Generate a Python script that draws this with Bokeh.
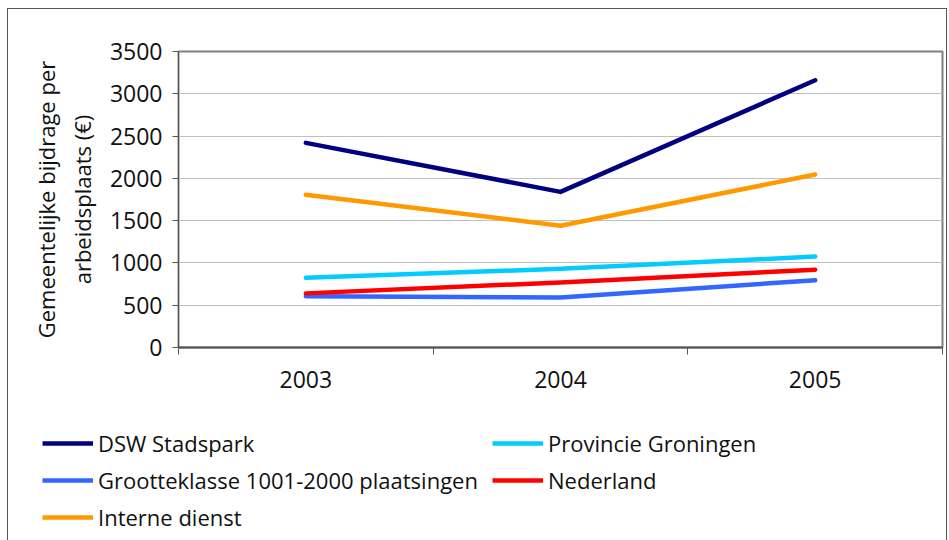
from bokeh.plotting import figure
from bokeh.models import FixedTicker, Legend, LegendItem, Range1d
from bokeh.layouts import column
from bokeh.embed import file_html
from bokeh.resources import INLINE

years = ["2003", "2004", "2005"]
dsw_stadspark = [2420, 1840, 3160]
provincie_groningen = [825, 930, 1075]
grootteklasse = [605, 592, 795]
nederland = [640, 770, 920]
interne_dienst = [1805, 1440, 2045]

FONT = "Open Sans"
TXT = "#111111"
xs = [i + 0.5 for i in range(len(years))]

series = [
    ("DSW Stadspark", dsw_stadspark, "#000080"),
    ("Provincie Groningen", provincie_groningen, "#00ccff"),
    ("Grootteklasse 1001-2000 plaatsingen", grootteklasse, "#3366ff"),
    ("Nederland", nederland, "#ff0000"),
    ("Interne dienst", interne_dienst, "#ff9900"),
]

W = 938
p = figure(width=W, height=394, output_backend="svg", toolbar_location=None,
           x_range=Range1d(0, len(years)), y_range=Range1d(0, 3500),
           min_border_left=170, min_border_right=4, min_border_top=42, min_border_bottom=56)
p.outline_line_color = "#808080"
p.outline_line_width = 2

# y axis
p.yaxis.ticker = FixedTicker(ticks=list(range(0, 3501, 500)))
p.yaxis.axis_line_color = "#555555"
p.yaxis.major_tick_line_color = "#555555"
p.yaxis.major_tick_in = 0
p.yaxis.major_tick_out = 6
p.yaxis.minor_tick_line_color = None
p.yaxis.major_label_text_font = FONT
p.yaxis.major_label_text_font_size = "23px"
p.yaxis.major_label_text_color = TXT
p.yaxis.major_label_standoff = 10
p.yaxis.axis_label = "Gemeentelijke bijdrage per\narbeidsplaats (€)"
p.yaxis.axis_label_text_font = FONT
p.yaxis.axis_label_text_font_size = "22px"
p.yaxis.axis_label_text_font_style = "normal"
p.yaxis.axis_label_text_color = TXT
p.yaxis.axis_label_standoff = 10

# x axis: labels at category centres, ticks at category boundaries
p.xaxis.ticker = FixedTicker(ticks=xs, minor_ticks=list(range(len(years) + 1)))
p.xaxis.major_label_overrides = {x: y for x, y in zip(xs, years)}
p.xaxis.major_tick_line_color = None
p.xaxis.major_tick_out = 7
p.xaxis.major_tick_in = 0
p.xaxis.minor_tick_line_color = "#555555"
p.xaxis.minor_tick_in = 0
p.xaxis.minor_tick_out = 7
p.xaxis.axis_line_color = "#555555"
p.xaxis.axis_line_width = 2
p.xaxis.major_label_text_font = FONT
p.xaxis.major_label_text_font_size = "23px"
p.xaxis.major_label_text_color = TXT
p.xaxis.major_label_standoff = 16

p.xgrid.grid_line_color = None
p.ygrid.ticker = FixedTicker(ticks=list(range(500, 3501, 500)))
p.ygrid.grid_line_color = "#c0c0c0"
p.ygrid.grid_line_width = 1

draw_order = [series[2], series[3], series[1], series[4], series[0]]
for name, vals, col in draw_order:
    p.line(xs, vals, line_color=col, line_width=4.5, line_cap="round", line_join="round")

# legend panel below (same series; lines fall outside this panel's visible range)
LH = 137
lf = figure(width=W, height=LH, output_backend="svg", toolbar_location=None,
            x_range=Range1d(0, W), y_range=Range1d(0, LH),
            min_border_left=0, min_border_right=0, min_border_top=0, min_border_bottom=0)
lf.axis.visible = False
lf.grid.visible = False
lf.outline_line_color = None
for fig in (p, lf):
    try:
        fig.frame_align = False
    except Exception:
        pass
rend = {}
for name, vals, col in series:
    rend[name] = lf.line(xs, vals, line_color=col, line_width=4.5)

def make_legend(names, loc):
    lg = Legend(items=[LegendItem(label=n, renderers=[rend[n]]) for n in names],
                location=loc, orientation="vertical")
    lg.background_fill_alpha = 0
    lg.border_line_color = None
    lg.label_text_font = FONT
    lg.label_text_font_size = "22px"
    lg.label_text_color = TXT
    lg.glyph_width = 51
    lg.glyph_height = 20
    lg.label_standoff = 5
    lg.spacing = 7
    lg.padding = 0
    lg.margin = 0
    return lg

lf.add_layout(make_legend(["DSW Stadspark", "Grootteklasse 1001-2000 plaatsingen", "Interne dienst"], (34, 8)), "center")
lf.add_layout(make_legend(["Provincie Groningen", "Nederland"], (484, 45)), "center")

layout = column(p, lf, spacing=0)
layout.styles = {"border-left": "1px solid #555555", "border-top": "1px solid #555555",
                 "border-right": "1px solid #555555", "margin-left": "7px", "margin-top": "8px"}

open("out.html", "w").write(file_html(layout, INLINE))
